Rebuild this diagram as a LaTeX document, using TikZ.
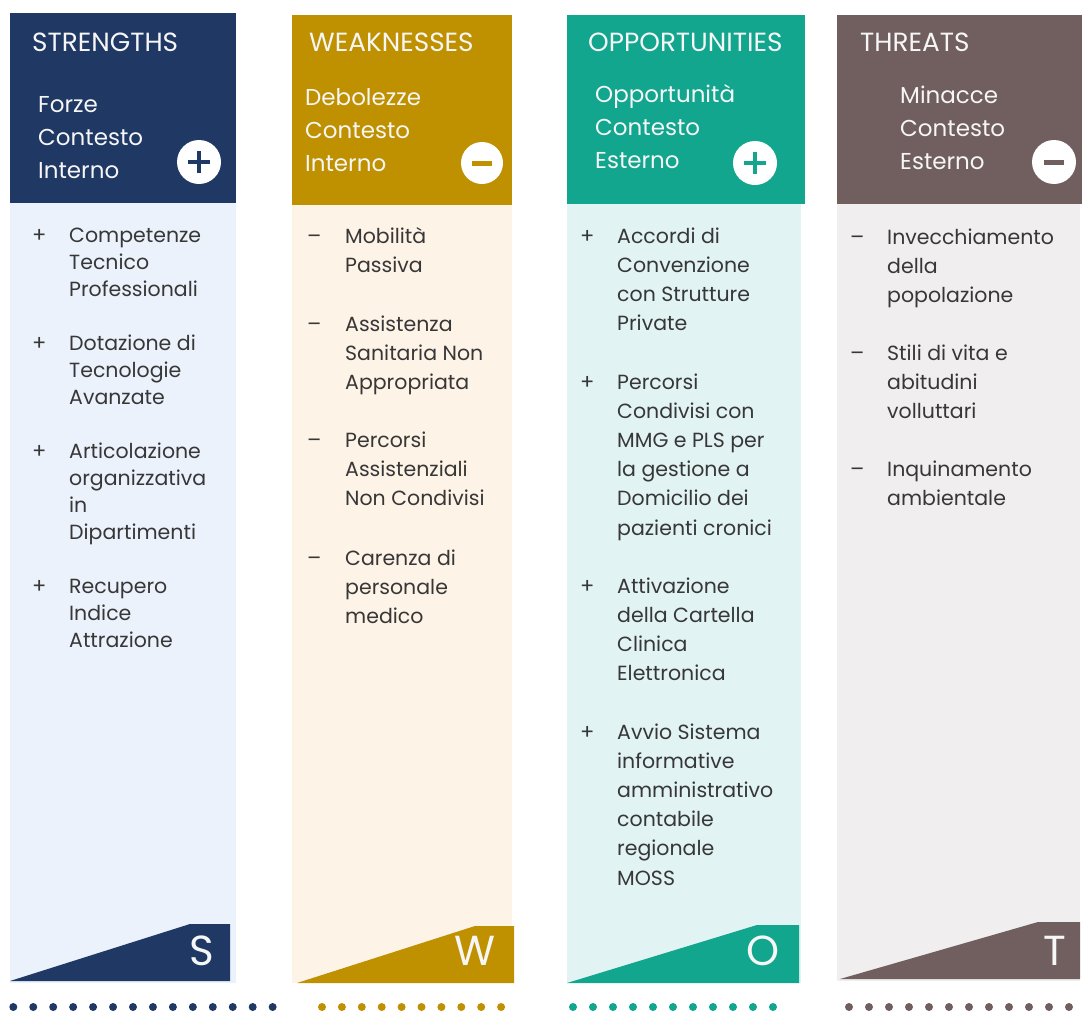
\documentclass[tikz,border=0pt]{standalone}
\usepackage{fontspec}
\setmainfont{Poppins}

\definecolor{sDark}{RGB}{31,56,100}
\definecolor{sLight}{RGB}{235,242,252}
\definecolor{wDark}{RGB}{191,144,0}
\definecolor{wLight}{RGB}{254,243,231}
\definecolor{oDark}{RGB}{17,166,141}
\definecolor{oLight}{RGB}{226,243,243}
\definecolor{tDark}{RGB}{112,95,94}
\definecolor{tLight}{RGB}{240,238,239}
\definecolor{bodytext}{RGB}{55,55,55}
\definecolor{headtext}{RGB}{246,246,246}

% a block of lines whose baseline is that of its first line
\newcommand\linestack[1]{\begin{tabular}[t]{@{}l@{}}#1\end{tabular}}

\tikzset{
  title/.style={anchor=base west, inner sep=0pt, text=headtext, font=\fontsize{26.3}{28}\selectfont},
  sub/.style={anchor=base west, inner sep=0pt, text=headtext, font=\fontsize{23}{33.3}\selectfont},
  itm/.style={anchor=base west, inner sep=0pt, text=bodytext, font=\fontsize{20.5}{#1}\selectfont},
  itm/.default=29.2,
  bul/.style={anchor=base west, inner sep=0pt, text=bodytext, font=\fontsize{21}{24}\selectfont},
  bigletter/.style={anchor=base east, inner sep=0pt, text=headtext, font=\fontsize{42}{44}\selectfont},
  badge/.style={fill=white, draw=none},
}

\begin{document}
\begin{tikzpicture}[x=1pt, y=-1pt]
\path[use as bounding box] (0,0) rectangle (1082,1012);

% ---------------- STRENGTHS ----------------
\fill[sLight] (10,203) rectangle (236,983);
\fill[sDark] (10,13) rectangle (236,203);
\fill[sDark] (10,981) -- (190,924) -- (230,924) -- (230,981) -- cycle;
\node[title] (sT) at (32,51) {STRENGTHS};
\node[sub] (sS) at (38,112) {\linestack{Forze\\Contesto\\Interno}};
\fill[badge] (199,162) circle (22);
\draw[sDark, line width=3.8pt] (188,162) -- (210,162) (199,151) -- (199,173);
\node[bigletter] (sL) at (214,965) {S};
\node[bul] (s1b) at (32,242) {+};
\node[itm=27] (s1) at (69,242) {\linestack{Competenze\\Tecnico\\Professionali}};
\node[bul] (s2b) at (32,350) {+};
\node[itm=27] (s2) at (69,350) {\linestack{Dotazione di\\Tecnologie\\Avanzate}};
\node[bul] (s3b) at (32,458) {+};
\node[itm=27] (s3) at (69,458) {\linestack{Articolazione\\organizzativa\\in\\Dipartimenti}};
\node[bul] (s4b) at (32,593) {+};
\node[itm=27] (s4) at (69,593) {\linestack{Recupero\\Indice\\Attrazione}};
\foreach \i in {0,...,13} \fill[sDark] (13.3+19.95*\i,1007) circle (4);

% ---------------- WEAKNESSES ----------------
\fill[wLight] (292,205) rectangle (512,983);
\fill[wDark] (292,15) rectangle (512,205);
\fill[wDark] (297,983) -- (475,926) -- (514,926) -- (514,983) -- cycle;
\node[title] (wT) at (309,51) {WEAKNESSES};
\node[sub] (wS) at (305,105) {\linestack{Debolezze\\Contesto\\Interno}};
\fill[badge] (482,163) circle (21);
\draw[wDark, line width=5pt] (472,163) -- (492,163);
\node[bigletter] (wL) at (496,965) {W};
\node[bul] (w1b) at (307,243) {–};
\node[itm] (w1) at (345,243) {\linestack{Mobilità\\Passiva}};
\node[bul] (w2b) at (307,331) {–};
\node[itm] (w2) at (345,331) {\linestack{Assistenza\\Sanitaria Non\\Appropriata}};
\node[bul] (w3b) at (307,447) {–};
\node[itm] (w3) at (345,447) {\linestack{Percorsi\\Assistenziali\\Non Condivisi}};
\node[bul] (w4b) at (307,565) {–};
\node[itm] (w4) at (345,565) {\linestack{Carenza di\\personale\\medico}};
\foreach \i in {0,...,9} \fill[wDark] (322+19.9*\i,1007) circle (4);

% ---------------- OPPORTUNITIES ----------------
\fill[oLight] (567,204) rectangle (801,983);
\fill[oDark] (567,15) rectangle (805,204);
\fill[oDark] (567,983) -- (757,925) -- (799,925) -- (799,983) -- cycle;
\node[title] (oT) at (588,51) {OPPORTUNITIES};
\node[sub] (oS) at (595,102) {\linestack{Opportunità\\Contesto\\Esterno}};
\fill[badge] (755,163) circle (22);
\draw[oDark, line width=3.8pt] (744,163) -- (766,163) (755,152) -- (755,174);
\node[bigletter] (oL) at (780,965) {O};
\node[bul] (o1b) at (580,243) {+};
\node[itm] (o1) at (617,243) {\linestack{Accordi di\\Convenzione\\con Strutture\\Private}};
\node[bul] (o2b) at (580,389) {+};
\node[itm] (o2) at (617,389) {\linestack{Percorsi\\Condivisi con\\MMG e PLS per\\la gestione a\\Domicilio dei\\pazienti cronici}};
\node[bul] (o3b) at (580,593) {+};
\node[itm] (o3) at (617,593) {\linestack{Attivazione\\della Cartella\\Clinica\\Elettronica}};
\node[bul] (o4b) at (580,739) {+};
\node[itm] (o4) at (617,739) {\linestack{Avvio Sistema\\informative\\amministrativo\\contabile\\regionale\\MOSS}};
\foreach \i in {0,...,10} \fill[oDark] (573+20*\i,1007) circle (4);

% ---------------- THREATS ----------------
\fill[tLight] (837,204) rectangle (1080,981);
\fill[tDark] (837,15) rectangle (1082,204);
\fill[tDark] (840,979) -- (1038,922) -- (1080,922) -- (1080,979) -- cycle;
\node[title] (tT) at (860,51) {THREATS};
\node[sub] (tS) at (900,103) {\linestack{Minacce\\Contesto\\Esterno}};
\fill[badge] (1054,162) circle (22);
\draw[tDark, line width=5pt] (1044,162) -- (1064,162);
\node[bigletter] (tL) at (1066,965) {T};
\node[bul] (t1b) at (850,244) {–};
\node[itm] (t1) at (887,244) {\linestack{Invecchiamento\\della\\popolazione}};
\node[bul] (t2b) at (850,360) {–};
\node[itm] (t2) at (887,360) {\linestack{Stili di vita e\\abitudini\\volluttari}};
\node[bul] (t3b) at (850,476) {–};
\node[itm] (t3) at (887,476) {\linestack{Inquinamento\\ambientale}};
\foreach \i in {0,...,11} \fill[tDark] (849+20*\i,1007) circle (4);

\end{tikzpicture}
\end{document}
